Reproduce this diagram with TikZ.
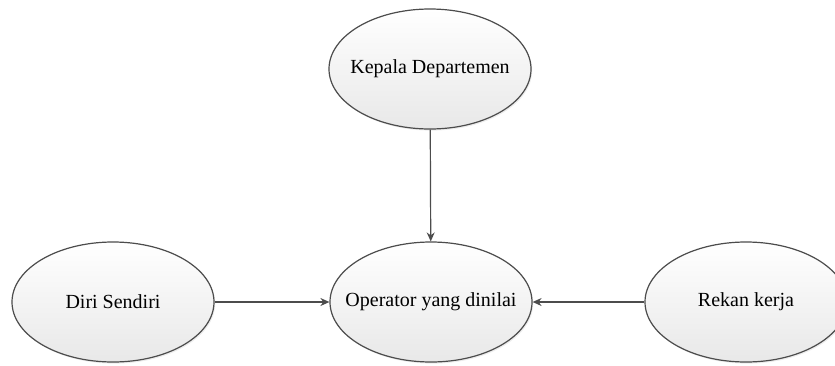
\documentclass[tikz,border=0pt]{standalone}
\usepackage{fontspec}
\setmainfont{Liberation Serif}
\usetikzlibrary{shapes.geometric, arrows.meta, shadows}

\begin{document}
\begin{tikzpicture}[x=0.5pt, y=-0.5pt,
    rater/.style={ellipse, draw=black!70, line width=0.6pt,
      top color=white, bottom color=black!9,
      drop shadow={opacity=0.15, shadow xshift=0.6pt, shadow yshift=-0.8pt},
      minimum width=101pt, minimum height=60pt, inner xsep=-25pt, inner ysep=0pt,
      font=\fontsize{10}{12}\selectfont},
    link/.style={-{Stealth[length=4.5pt, width=4pt]}, draw=black!70, line width=0.6pt}
  ]
    \useasboundingbox (0,0) rectangle (835,365);
    % the one who is rated sits in the middle
    \node[rater] (op) at (431, 302) {Operator yang dinilai};
    \node[rater] (kepala) at (430, 69) {Kepala Departemen};
    \node[rater] (diri) at (113, 302) {Diri Sendiri};
    \node[rater] (rekan) at (746, 302) {Rekan kerja};

    \draw[link] (kepala) -- (op);
    \draw[link] (diri) -- (op);
    \draw[link] (rekan) -- (op);
  \end{tikzpicture}
\end{document}
